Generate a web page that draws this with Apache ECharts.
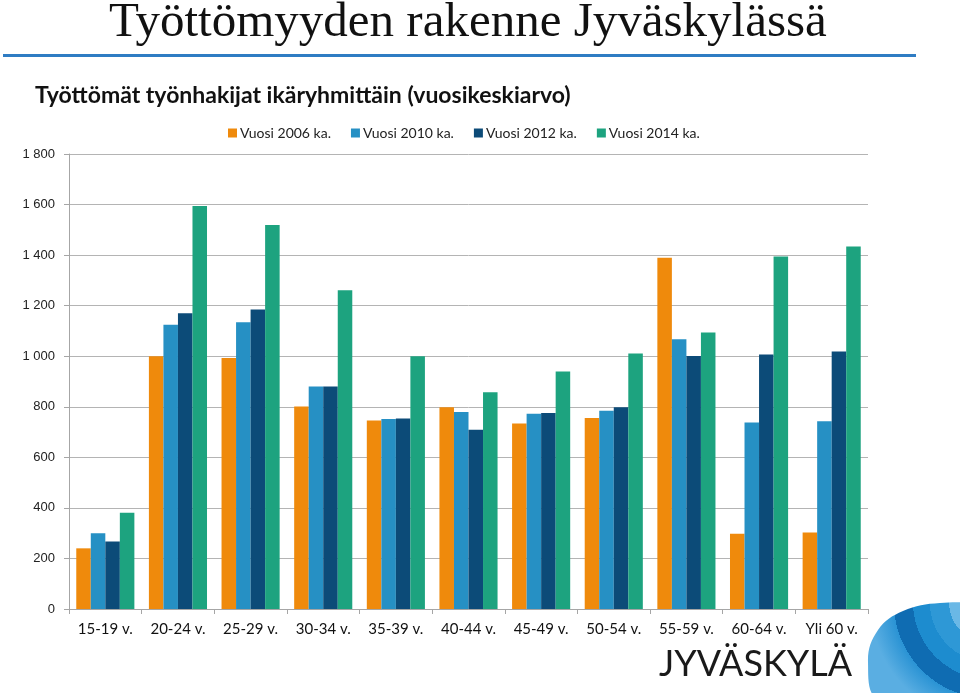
<!DOCTYPE html>
<html>
<head>
<meta charset="utf-8">
<title>Työttömyyden rakenne Jyväskylässä</title>
<script src="https://cdn.jsdelivr.net/npm/echarts@6/dist/echarts.min.js"></script>
<style>
  html, body { margin: 0; padding: 0; background: #fff; }
  #chart { width: 960px; height: 693px; }
</style>
</head>
<body>
<div id="chart"></div>
<script>
// ikäryhmät
const categories = ["15-19 v.", "20-24 v.", "25-29 v.", "30-34 v.", "35-39 v.", "40-44 v.",
  "45-49 v.", "50-54 v.", "55-59 v.", "60-64 v.", "Yli 60 v."];

const seriesNames = ["Vuosi 2006 ka.", "Vuosi 2010 ka.", "Vuosi 2012 ka.", "Vuosi 2014 ka."];

// luettu kuvasta (arvioita)
const v2006 = [240, 1000, 993, 801, 746, 798, 734, 756, 1390, 298, 303];
const v2010 = [300, 1125, 1134, 880, 752, 779, 772, 784, 1067, 738, 743];
const v2012 = [267, 1170, 1185, 880, 754, 709, 775, 798, 1001, 1007, 1019];
const v2014 = [381, 1594, 1519, 1261, 1000, 857, 940, 1011, 1094, 1395, 1434];

const yTicks = { min: 0, max: 1800, interval: 200 };

const colors = ["#ef8a0c", "#2690c4", "#0c4b78", "#1da37f"];

const fmtThousands = v => String(v).replace(/\B(?=(\d{3})+(?!\d))/g, " ");

const option = {
  color: colors,
  animation: false,
  title: [
    {
      text: "Työttömyyden rakenne Jyväskylässä",
      left: 104,
      top: -6,
      textStyle: {
        fontFamily: "Liberation Serif",
        fontWeight: "normal",
        fontSize: 49,
        color: "#111"
      }
    },
    {
      text: "Työttömät työnhakijat ikäryhmittäin (vuosikeskiarvo)",
      left: 30,
      top: 79,
      textStyle: {
        fontFamily: "Lato",
        fontWeight: "bold",
        fontSize: 23,
        color: "#111"
      }
    }
  ],
  legend: {
    data: seriesNames,
    left: 223,
    top: 121,
    itemWidth: 9,
    itemHeight: 9,
    itemGap: 20,
    icon: "rect",
    textStyle: { fontFamily: "Lato", fontSize: 14, color: "#222", padding: [0, 0, 0, -2] }
  },
  grid: {
    left: 69,
    right: 92,
    top: 154,
    bottom: 84,
    containLabel: false
  },
  xAxis: [
    {
      type: "category",
      data: categories,
      axisLine: { lineStyle: { color: "#a6a6a6" } },
      axisTick: { show: true, length: 5, alignWithLabel: false, lineStyle: { color: "#a6a6a6" } },
      axisLabel: { fontFamily: "Lato", fontSize: 15, color: "#111", margin: 13 }
    }
  ],
  yAxis: [
    {
      type: "value",
      min: yTicks.min,
      max: yTicks.max,
      interval: yTicks.interval,
      axisLine: { show: true, lineStyle: { color: "#a6a6a6" } },
      axisTick: { show: true, length: 5, lineStyle: { color: "#a6a6a6" } },
      splitLine: { lineStyle: { color: "#b4b4b4" } },
      axisLabel: {
        fontFamily: "Liberation Sans",
        fontSize: 13,
        color: "#222",
        margin: 14,
        formatter: fmtThousands
      }
    }
  ],
  series: [
    { name: seriesNames[0], type: "bar", barGap: "0%", barCategoryGap: "20%", data: v2006 },
    { name: seriesNames[1], type: "bar", barGap: "0%", barCategoryGap: "20%", data: v2010 },
    { name: seriesNames[2], type: "bar", barGap: "0%", barCategoryGap: "20%", data: v2012 },
    { name: seriesNames[3], type: "bar", barGap: "0%", barCategoryGap: "20%", data: v2014 }
  ],
  graphic: [
    // sininen viiva otsikon alla
    {
      type: "rect",
      shape: { x: 3, y: 54, width: 913, height: 3 },
      style: { fill: "#2f7cc3" }
    },
    // logo teksti
    {
      type: "text",
      left: 659,
      top: 646,
      style: {
        text: "JYVÄSKYLÄ",
        font: "normal 36px Lato",
        fill: "#1a1a1a"
      }
    },
    // logo kuvio oikeassa alakulmassa
    {
      type: "polygon",
      shape: {
        smooth: 0.4,
        points: [[880, 700], [868, 662], [878, 630], [903, 611], [940, 603],
          [980, 606], [1010, 625], [1010, 700]]
      },
      style: {
        fill: {
          type: "radial",
          x: 0.8,
          y: 0.0,
          r: 1.1,
          colorStops: [
            { offset: 0, color: "#b5dcf3" },
            { offset: 0.2, color: "#b5dcf3" },
            { offset: 0.2, color: "#6ab8e6" },
            { offset: 0.34, color: "#6ab8e6" },
            { offset: 0.34, color: "#2e98d6" },
            { offset: 0.5, color: "#2e98d6" },
            { offset: 0.5, color: "#1d8ccf" },
            { offset: 0.64, color: "#1d8ccf" },
            { offset: 0.64, color: "#0f6cb2" },
            { offset: 0.8, color: "#0f6cb2" },
            { offset: 0.8, color: "#2a93d4" },
            { offset: 1, color: "#5aaee2" }
          ]
        }
      }
    }
  ]
};

const chart = echarts.init(document.getElementById("chart"));
chart.setOption(option);
</script>
</body>
</html>
